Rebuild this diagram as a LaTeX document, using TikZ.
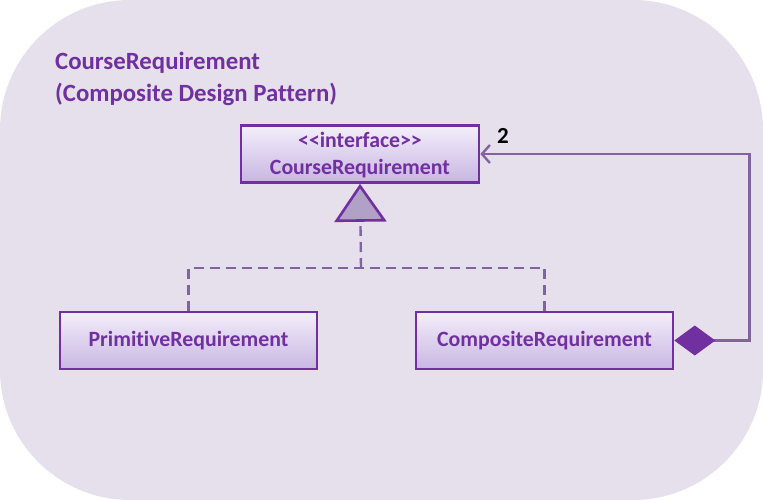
\documentclass[tikz,border=0pt]{standalone}
\usepackage{fontspec}
\setmainfont{Carlito}[Ligatures={NoCommon}]
\usetikzlibrary{arrows.meta}
\definecolor{panel}{RGB}{230,224,236}
\definecolor{grape}{RGB}{112,48,160}
\definecolor{lavender}{RGB}{128,100,162}
\definecolor{lilac}{RGB}{178,161,199}
\definecolor{boxtop}{RGB}{243,238,250}
\definecolor{boxbot}{RGB}{200,182,226}
\tikzset{
  every picture/.style={x=1pt, y=-1pt, font=\bfseries},
  cls/.style={draw=grape, line width=2.6pt, top color=boxtop, bottom color=boxbot,
    text=grape, minimum width=257pt, minimum height=57pt, align=center,
    font=\fontsize{21.8}{27}\selectfont\bfseries},
  realize/.style={draw=lavender, line width=2.4pt, dash pattern=on 10pt off 6pt},
  owns/.style={draw=lavender, line width=2.4pt},
  title/.style={text=grape, align=left, anchor=north west, inner sep=0pt,
    font=\fontsize{24.8}{32}\selectfont\bfseries},
}
\begin{document}
\begin{tikzpicture}
  \useasboundingbox (0,0) rectangle (763,500);
  % backdrop
  \fill[panel, rounded corners=130pt] (0,0) rectangle (763,500);
  \node[title] (head) at (55,52) {CourseRequirement\\(Composite Design Pattern)};
  % classes
  \node[cls, minimum width=238pt, text depth=2pt] (iface) at (360,154)
    {<\kern0pt<interface>\kern0pt>\\CourseRequirement};
  \node[cls] (prim) at (188.5,340.5) {PrimitiveRequirement};
  \node[cls] (comp) at (544.5,340.5) {CompositeRequirement};
  % realization
  \coordinate (join) at (361,268);
  \draw[realize] (prim.north) |- (join) -| (comp.north);
  \draw[realize, -{Triangle[length=38pt, width=52pt, fill=lilac, color=grape, line width=2.6pt]}] (join) -- (iface.south);
  % composition
  \draw[owns, {Diamond[length=41pt, width=30pt, fill=grape, color=grape]}-{Straight Barb[length=8pt, width=18pt]}]
    (comp.east) -- ++(75,0) |- (iface.east);
  \node[text=black, font=\fontsize{23}{24}\selectfont\bfseries] (mult) at (503,136) {2};
\end{tikzpicture}
\end{document}
